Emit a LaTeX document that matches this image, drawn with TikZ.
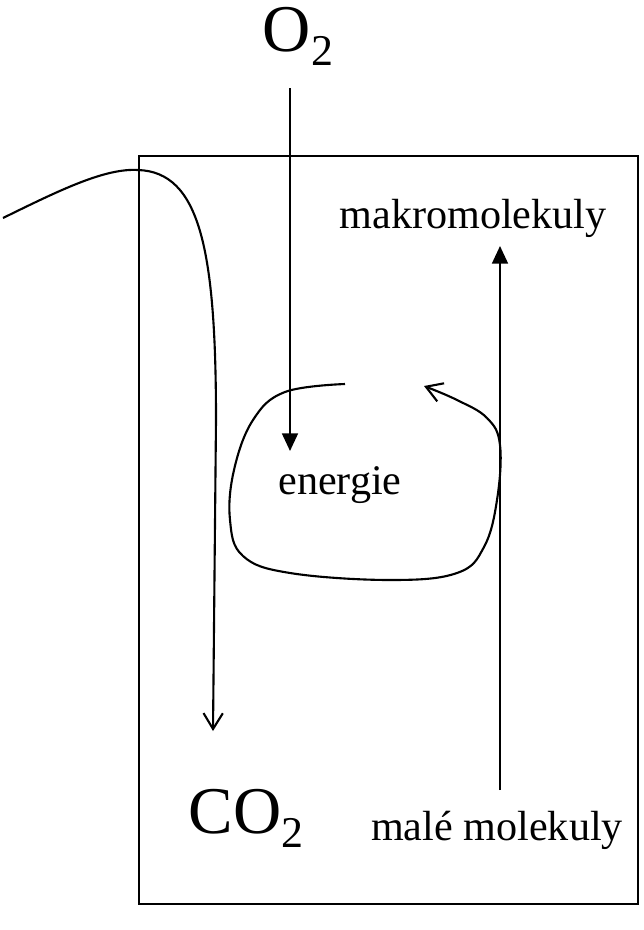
\documentclass[tikz,border=0pt]{standalone}
\usepackage{fontspec}
\setmainfont{Liberation Serif}
\usetikzlibrary{positioning,arrows.meta,calc}
\tikzset{
  % --- text ------------------------------------------------------------
  lab/.style   ={inner sep=0pt, font=\fontsize{24}{28}\selectfont},
  gas/.style   ={inner sep=0pt, font=\fontsize{38}{42}\selectfont},
  % --- lines -----------------------------------------------------------
  wall/.style  ={draw, line width=1.2pt},
  flow/.style  ={line width=1.2pt, -{Triangle[length=10pt,width=9pt]}},
  open/.style  ={line width=1.2pt, -{Straight Barb[length=9pt,width=11pt,line width=1.2pt]}},
}
\newcommand{\sub}[1]{\raisebox{-8pt}{\fontsize{25}{25}\selectfont #1}}

\begin{document}
\begin{tikzpicture}[x=0.02cm, y=-0.02cm]
  \useasboundingbox (0,0) rectangle (644,930);

  % ===================== cell =====================
  \node[wall, minimum width=499*0.02cm, minimum height=748*0.02cm,
        anchor=north west, inner sep=0pt] (cell) at (138,155) {};

  % ===================== labels =====================
  \node[gas] (o2)    at (298,36)  {O\sub{2}};
  \node[gas] (co2)   at (246,818) {CO\sub{2}};
  \node[lab] (makro) at (473,218) {makromolekuly};
  \node[lab] (male)  at (497,830) {malé molekuly};
  \node[lab] (en)    at (340,485) {energie};

  % ===================== connector ends =====================
  \coordinate (o2end)  at (290,88);
  \coordinate (entop)  at (290,451);
  \coordinate (upbot)  at (500,790);
  \coordinate (uptop)  at (500,246);
  \coordinate (inlet)  at (3,218);
  \coordinate (edge)   at (138,170);
  \coordinate (co2top) at (213,731);

  % ===================== edges =====================
  \draw[flow] (o2end) -- (entop);
  \draw[flow] (upbot) -- (uptop);
  \draw[open] (inlet) .. controls (60,190) and (105,168) .. (edge)
              .. controls (200,172) and (216,250) .. (216,420) -- (co2top);

  % energy cycle
  \draw[open] plot[smooth, tension=0.65] coordinates
    {(345,384) (285,392) (253,420) (234,470) (230,520) (243,556) (290,573)
     (390,580) (457,573) (484,547) (497,500) (500,445) (487,418) (457,400) (424,386)};
\end{tikzpicture}
\end{document}
